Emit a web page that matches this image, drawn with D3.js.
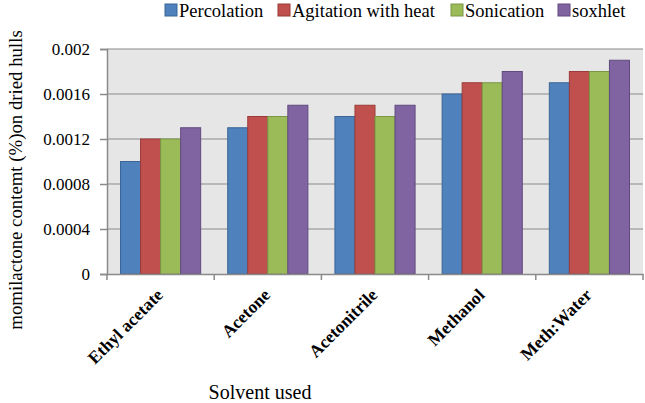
<!DOCTYPE html>
<html><head><meta charset="utf-8">
<script src="https://cdn.jsdelivr.net/npm/d3@7"></script>
<style>body{margin:0;background:#fff}svg{display:block}</style>
</head><body><svg id="c" width="645" height="403" style="font-family:'Liberation Serif','Times New Roman',serif"></svg>
<script>
const categories = ["Ethyl acetate","Acetone","Acetonitrile","Methanol","Meth:Water"];
const seriesNames = ["Percolation","Agitation with heat","Sonication","soxhlet"];
const percolation = [0.0010,0.0013,0.0014,0.0016,0.0017];
const agitation   = [0.0012,0.0014,0.0015,0.0017,0.0018];
const sonication  = [0.0012,0.0014,0.0014,0.0017,0.0018];
const soxhlet     = [0.0013,0.0015,0.0015,0.0018,0.0019];
const yTicks = [0,0.0004,0.0008,0.0012,0.0016,0.002];
const yTickLabels = ["0","0.0004","0.0008","0.0012","0.0016","0.002"];
const colors = ["#4F81BD","#C0504D","#9BBB59","#8064A2"];
const strokes = ["#3A6595","#9A3B39","#7A9645","#62497F"];
const seriesVals = [percolation, agitation, sonication, soxhlet];
const FONT = "'Liberation Serif','Times New Roman',serif";

const svg = d3.select("#c");
const L=107, R=643, T=49, B=274;
const x = d3.scaleBand().domain(categories).range([L,R]).paddingInner(0).paddingOuter(0);
const x1 = d3.scaleBand().domain(seriesNames).range([0,x.bandwidth()]).paddingOuter(0.675).paddingInner(0);
const y = d3.scaleLinear().domain([0,0.002]).range([B,T]);

svg.append("rect").attr("x",L).attr("y",T).attr("width",R-L).attr("height",B-T).attr("fill","#E6E6E6");
svg.append("g").selectAll("line").data(yTicks.slice(1)).join("line")
  .attr("x1",L).attr("x2",R).attr("y1",d=>y(d)).attr("y2",d=>y(d)).attr("stroke","#8A8A8A").attr("stroke-width",1.2);

const g = svg.append("g");
categories.forEach((c,ci)=>{
  seriesNames.forEach((s,si)=>{
    const v = seriesVals[si][ci];
    g.append("rect").attr("x",x(c)+x1(s)).attr("width",x1.bandwidth())
     .attr("y",y(v)).attr("height",y(0)-y(v))
     .attr("fill",colors[si]).attr("stroke",strokes[si]).attr("stroke-width",1);
  });
});

const yAxis = d3.axisLeft(y).tickValues(yTicks).tickFormat((d,i)=>yTickLabels[i]).tickSize(7).tickPadding(10);
const ya = svg.append("g").attr("transform",`translate(${L},0)`).call(yAxis).attr("font-family",FONT).attr("font-size",17);
ya.select(".domain").attr("stroke","#8A8A8A").attr("stroke-width",1.5);
ya.selectAll(".tick line").attr("stroke","#8A8A8A").attr("stroke-width",1.5);
ya.selectAll("text").attr("fill","#000").style("font-family",FONT).style("font-size","17px");

const xAxis = d3.axisBottom(x).tickSize(0).tickFormat("");
const xa = svg.append("g").attr("transform",`translate(0,${B})`).call(xAxis);
xa.select(".domain").attr("stroke","#8A8A8A").attr("stroke-width",1.5);
xa.selectAll(".tick").remove();
const bounds = [L].concat(categories.map(c=>x(c)+x.bandwidth()));
xa.selectAll("line.b").data(bounds).join("line").attr("class","b")
  .attr("x1",d=>d).attr("x2",d=>d).attr("y1",0).attr("y2",6).attr("stroke","#8A8A8A").attr("stroke-width",1.5);

svg.append("g").selectAll("text").data(categories).join("text")
  .attr("transform",d=>`translate(${x(d)+x.bandwidth()/2+3.5},${B+22}) rotate(-45)`)
  .attr("text-anchor","end").style("font-family",FONT).style("font-size","17.5px").style("font-weight","bold").text(d=>d);

svg.append("text").attr("x",260).attr("y",399).attr("text-anchor","middle").style("font-family",FONT).style("font-size","20px").text("Solvent used");
svg.append("text").attr("transform","translate(22,180) rotate(-90)").attr("text-anchor","middle").style("font-family",FONT).style("font-size","18.8px").text("momilactone contemt (%)on dried hulls");

const legX = [165,278,451,558];
const lg = svg.append("g");
seriesNames.forEach((s,i)=>{
  lg.append("rect").attr("x",legX[i]).attr("y",4).attr("width",12).attr("height",12).attr("fill",colors[i]).attr("stroke",strokes[i]);
  lg.append("text").attr("x",legX[i]+14).attr("y",17).style("font-family",FONT).style("font-size","18.5px").text(s);
});
</script></body></html>
